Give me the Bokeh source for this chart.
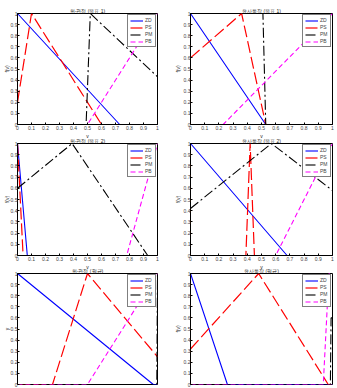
from bokeh.plotting import figure
from bokeh.layouts import column, row
from bokeh.models import Range1d, FixedTicker, CustomJSTickFormatter, Legend, LegendItem
from bokeh.embed import file_html
from bokeh.resources import INLINE

v_ticks = [0, 0.1, 0.2, 0.3, 0.4, 0.5, 0.6, 0.7, 0.8, 0.9, 1]
series_names = ["ZD", "PS", "PM", "PB"]
titles = ["위-관점 (목표 1)", "유사동작 (목표 1)",
          "위-관점 (목표 2)", "유사동작 (목표 2)",
          "위-관점 (평균)", "유사동작 (평균)"]
ylabels = ["f(v)", "f(v)", "f(v)", "f(v)", "y", "f(v)"]
xlabel = "v"

# panel 1 (top-left)
zd_x1 = [0, 0.73, 1]; zd_y1 = [1, 0, 0]
ps_x1 = [0, 0.1, 0.6, 1]; ps_y1 = [0.2, 1, 0, 0]
pm_x1 = [0, 0.49, 0.52, 1]; pm_y1 = [0, 0, 1, 0.43]
pb_x1 = [0, 0.5, 1]; pb_y1 = [0, 0, 1]
# panel 2 (top-right)
zd_x2 = [0, 0.53, 1]; zd_y2 = [1, 0, 0]
ps_x2 = [0, 0.36, 0.53, 1]; ps_y2 = [0.6, 1, 0, 0]
pm_x2 = [0, 0.53, 0.51, 1]; pm_y2 = [0, 0, 1, 1]
pb_x2 = [0, 0.23, 1]; pb_y2 = [0, 0, 1]
# panel 3 (middle-left)
zd_x3 = [0, 0.07, 1]; zd_y3 = [1, 0, 0]
ps_x3 = [0, 0.04, 1]; ps_y3 = [1, 0, 0]
pm_x3 = [0, 0.39, 0.93, 1]; pm_y3 = [0.6, 1, 0, 0]
pb_x3 = [0, 0.78, 1]; pb_y3 = [0, 0, 1]
# panel 4 (middle-right)
zd_x4 = [0, 0.68, 1]; zd_y4 = [1, 0, 0]
ps_x4 = [0, 0.39, 0.42, 0.45, 1]; ps_y4 = [0, 0, 1, 0, 0]
pm_x4 = [0, 0.57, 1]; pm_y4 = [0.42, 1, 0.58]
pb_x4 = [0, 0.6, 1]; pb_y4 = [0, 0, 1]
# panel 5 (bottom-left)
zd_x5 = [0, 0.97, 1]; zd_y5 = [1, 0, 0]
ps_x5 = [0, 0.25, 0.5, 1]; ps_y5 = [0, 0, 1, 0.25]
pm_x5 = [0, 0.995, 1]; pm_y5 = [0, 0, 1]
pb_x5 = [0, 0.5, 1]; pb_y5 = [0, 0, 1]
# panel 6 (bottom-right)
zd_x6 = [0, 0.26, 1]; zd_y6 = [1, 0, 0]
ps_x6 = [0, 0.48, 0.97, 1]; ps_y6 = [0.32, 1, 0, 0]
pm_x6 = [0, 0.985, 0.99, 1]; pm_y6 = [0, 0, 0.6, 0.6]
pb_x6 = [0, 0.935, 0.975, 1]; pb_y6 = [0, 0, 1, 1]

panels = [
    (zd_x1, zd_y1, ps_x1, ps_y1, pm_x1, pm_y1, pb_x1, pb_y1),
    (zd_x2, zd_y2, ps_x2, ps_y2, pm_x2, pm_y2, pb_x2, pb_y2),
    (zd_x3, zd_y3, ps_x3, ps_y3, pm_x3, pm_y3, pb_x3, pb_y3),
    (zd_x4, zd_y4, ps_x4, ps_y4, pm_x4, pm_y4, pb_x4, pb_y4),
    (zd_x5, zd_y5, ps_x5, ps_y5, pm_x5, pm_y5, pb_x5, pb_y5),
    (zd_x6, zd_y6, ps_x6, ps_y6, pm_x6, pm_y6, pb_x6, pb_y6),
]

styles = [
    dict(line_color="#0000ff", line_width=1.1, line_dash="solid"),
    dict(line_color="#ff0000", line_width=1.2, line_dash="12 4"),
    dict(line_color="#000000", line_width=1.1, line_dash="10 3 2 3"),
    dict(line_color="#ff00ff", line_width=1.1, line_dash="5 3"),
]

FONT = "Liberation Sans"
fmt = CustomJSTickFormatter(code="return Number(tick.toFixed(1)).toString();")

row_frame_h = [111, 112, 111]
row_top = [13, 16, 16]
row_bottom = [22, 22, 4]
row_shift = [0, -19, -20]


def make(i):
    col = i % 2
    rowi = i // 2
    bottom_row = rowi == 2
    fh = row_frame_h[rowi]
    p = figure(frame_width=140 if col == 0 else 142, frame_height=fh,
               x_range=Range1d(0, 1), y_range=Range1d(0, 1),
               output_backend="svg", toolbar_location=None,
               min_border_left=15 if col == 0 else 22,
               min_border_right=11 if col == 0 else 5,
               min_border_top=row_top[rowi], min_border_bottom=row_bottom[rowi],
               background_fill_color="white", border_fill_color=None,
               outline_line_color="black", outline_line_width=1)
    p.title.text = titles[i]
    p.title.text_font = FONT
    p.title.text_font_size = "5px"
    p.title.text_font_style = "normal"
    p.title.text_color = "#222222"
    p.title.align = "center"
    p.title.standoff = 0
    p.title.offset = 0
    p.grid.visible = False
    for ax in p.xaxis + p.yaxis:
        ax.ticker = FixedTicker(ticks=v_ticks)
        ax.formatter = fmt
        ax.major_tick_in = 2
        ax.major_tick_out = 0
        ax.minor_tick_line_color = None
        ax.major_label_text_font = FONT
        ax.major_label_text_font_size = "5px"
        ax.major_label_standoff = 1
        ax.axis_label_text_font = FONT
        ax.axis_label_text_font_size = "5px"
        ax.axis_label_text_font_style = "normal"
        ax.axis_label_text_color = "#222222"
        ax.axis_line_color = "black"
    p.yaxis.major_label_standoff = 0
    p.yaxis.axis_label = ylabels[i]
    p.yaxis.axis_label_standoff = -2 if col == 0 else 0
    if bottom_row:
        p.xaxis.visible = False
    else:
        p.xaxis.axis_label = xlabel
        p.xaxis.axis_label_standoff = 0
    d = panels[i]
    items = []
    for k in range(4):
        r = p.line(d[2 * k], d[2 * k + 1], **styles[k])
        items.append(LegendItem(label=series_names[k], renderers=[r]))
    leg = Legend(items=items, location="top_right")
    leg.border_line_color = "black"
    leg.border_line_width = 1.5
    leg.background_fill_color = "white"
    leg.background_fill_alpha = 1
    leg.label_text_font = FONT
    leg.label_text_font_size = "5px"
    leg.label_width = 8
    leg.label_height = 5
    leg.glyph_height = 5
    leg.glyph_width = 13
    leg.label_standoff = 2
    leg.spacing = 1
    leg.padding = 2
    leg.margin = 1
    p.add_layout(leg)
    return p


figs = [make(i) for i in range(6)]
rows = []
for r_i in range(3):
    rows.append(row(figs[2 * r_i], figs[2 * r_i + 1], spacing=0,
                    margin=(row_shift[r_i], 0, 0, 0)))
layout = column(*rows, spacing=0)
open("out.html", "w").write(file_html(layout, INLINE))
